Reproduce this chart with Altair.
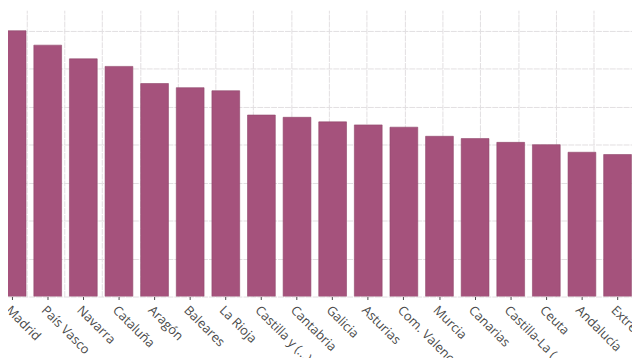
import altair as alt
import pandas as pd

regions = ["Madrid", "País Vasco", "Navarra", "Cataluña", "Aragón", "Baleares",
           "La Rioja", "Castilla y (...)", "Cantabria", "Galicia", "Asturias",
           "Com. Valenc (...)", "Murcia", "Canarias", "Castilla-La (...)", "Ceuta",
           "Andalucía", "Extremadura", "Melilla"]
values = [35.0, 33.1, 31.3, 30.3, 28.05, 27.5, 27.1, 23.9, 23.6, 23.0, 22.6,
          22.3, 21.1, 20.8, 20.3, 20.0, 19.0, 18.7, 18.4]

df = pd.DataFrame({"region": regions, "value": values})
grid_df = pd.DataFrame({"g": [0]})

W, H = 632, 290
grid_color = "#e2dee1"

y_axis = alt.Axis(values=[0, 5, 10, 15, 20, 25, 30, 35, 40], labels=False, ticks=False,
                  domain=False, grid=True, gridColor=grid_color, gridDash=[6, 1],
                  gridWidth=1)
y_scale = alt.Scale(domain=[0, 37.7], nice=False, zero=True)

bars = alt.Chart(df).mark_bar(color="#A5527C", stroke="#8f4569", strokeWidth=0.6, clip=True).encode(
    x=alt.X("region:N", sort=None, title=None,
            scale=alt.Scale(range=[-9.9, 667.5], paddingInner=0.22, paddingOuter=0),
            axis=alt.Axis(labelAngle=45, labelAlign="left", labelBaseline="top",
                          labelFont="Open Sans", labelFontSize=13, labelColor="#4a4a4a",
                          labelPadding=4, tickColor="#444444", tickSize=3,
                          domain=False, grid=False, labelOverlap=False)),
    y=alt.Y("value:Q", title=None, scale=y_scale, axis=y_axis),
)

vgrid = alt.Chart(grid_df).mark_point(opacity=0).encode(
    x=alt.X("g:Q", title=None,
            scale=alt.Scale(domain=[-0.488, 16.013], nice=False, zero=False),
            axis=alt.Axis(values=list(range(0, 17)), labels=False, ticks=False,
                          domain=False, grid=True, gridColor=grid_color, gridDash=[6, 1],
                          gridWidth=1, orient="top")),
    y=alt.Y("g:Q", title=None, scale=y_scale, axis=y_axis),
)

chart = alt.layer(vgrid, bars).resolve_scale(x="independent").properties(
    width=W, height=H,
    autosize=alt.AutoSizeParams(type="none"),
    padding={"left": 0, "top": 0, "right": 0, "bottom": 60},
    background="#ffffff",
).configure_view(stroke=None)

chart.save("out.html", embed_options={"renderer": "svg", "actions": False})
